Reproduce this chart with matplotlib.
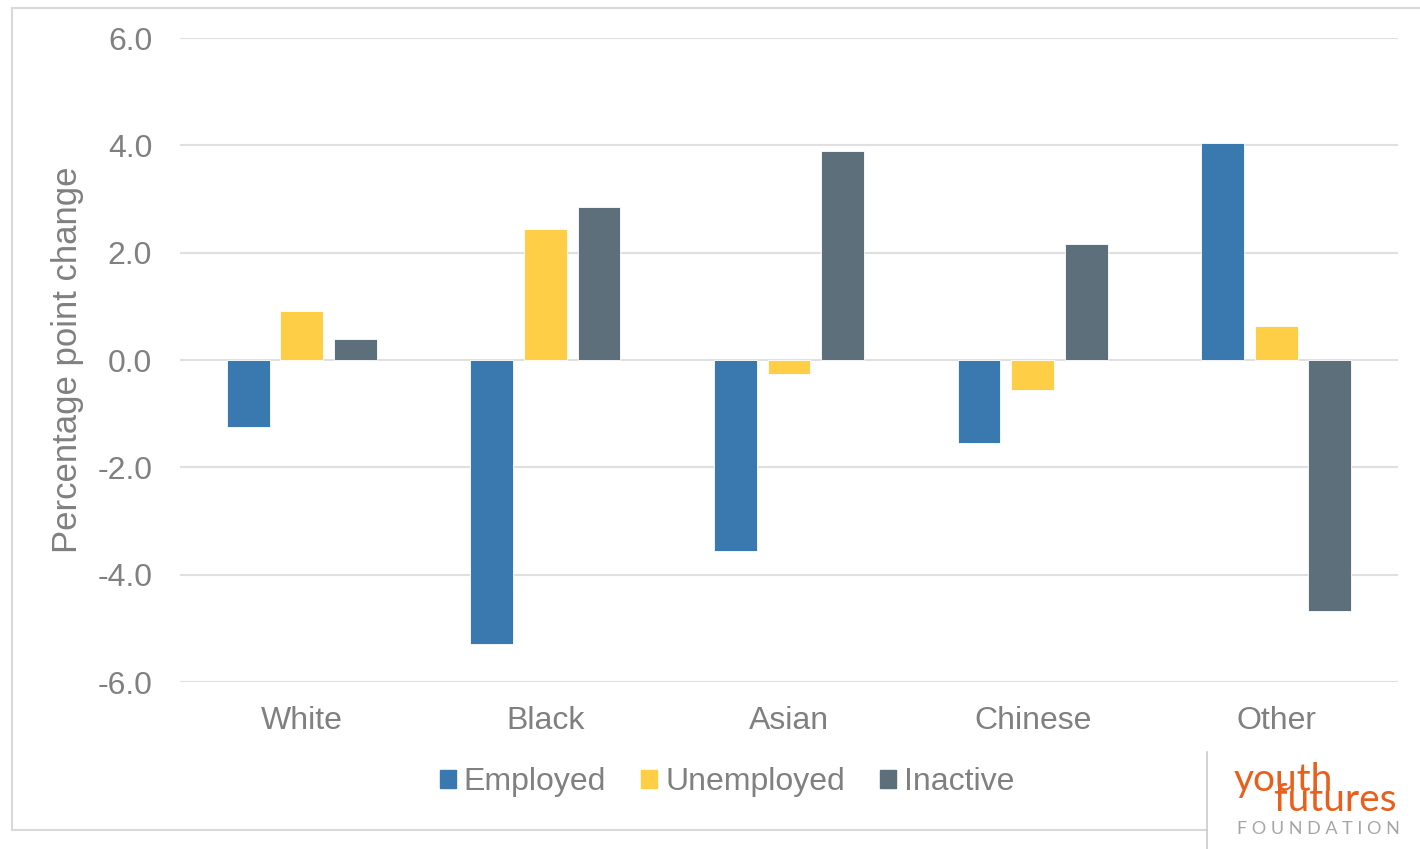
import matplotlib
matplotlib.use('Agg')
import numpy as np
import matplotlib.pyplot as plt
from matplotlib.patches import Patch
from matplotlib.lines import Line2D

groups = ["White", "Black", "Asian", "Chinese", "Other"]
series = ["Employed", "Unemployed", "Inactive"]
employed = [-1.25, -5.29, -3.56, -1.55, 4.04]
unemployed = [0.91, 2.44, -0.26, -0.56, 0.63]
inactive = [0.39, 2.85, 3.89, 2.16, -4.67]
yticks = [-6.0, -4.0, -2.0, 0.0, 2.0, 4.0, 6.0]

colors = ['#3A78B0', '#FFCE47', '#5D6F7A']
grey = '#808080'

plt.rcParams['font.family'] = ['Liberation Sans', 'DejaVu Sans']

fig = plt.figure(figsize=(14.2, 8.49), dpi=100)
ax = fig.add_axes([180/1420, 1-682/849, (1398-180)/1420, (682-38)/849])

x = np.arange(len(groups))
w = 0.175
step = 0.22
for i, (vals, c) in enumerate(zip([employed, unemployed, inactive], colors)):
    ax.bar(x + (i-1)*step, vals, w, color=c, edgecolor='white', linewidth=0.6, zorder=3)

ax.set_xlim(-0.5, len(groups)-0.5)
ax.set_ylim(-6, 6)
ax.set_yticks(yticks)
ax.set_yticklabels(["%.1f" % t for t in yticks])
ax.set_xticks(x)
ax.set_xticklabels(groups)
ax.grid(axis='y', color='#E0E0E0', linewidth=1.5, zorder=0)
ax.tick_params(length=0, labelsize=23, labelcolor=grey)
ax.tick_params(axis='y', pad=20)
ax.tick_params(axis='x', pad=17)
for s in ax.spines.values():
    s.set_visible(False)

# y axis title
fig.text(68/1420, 1-360/849, "Percentage point change", rotation=90, fontsize=25,
         color=grey, ha='center', va='center')

handles = [Patch(color=c, label=l) for c, l in zip(colors, series)]
fig.legend(handles=handles, loc='center', bbox_to_anchor=(727/1420, 1-782/849), ncol=3,
           frameon=False, fontsize=23, labelcolor=grey, handlelength=0.5, handleheight=0.5,
           handletextpad=0.25, columnspacing=1.1)

# outer frame
fc = '#D9D9D9'
fig.add_artist(Line2D([12/1420, 1420/1420], [1-8/849, 1-8/849], color=fc, lw=1.5))
fig.add_artist(Line2D([12/1420, 12/1420], [1-8/849, 1-830/849], color=fc, lw=1.5))
fig.add_artist(Line2D([12/1420, 1207/1420], [1-830/849, 1-830/849], color=fc, lw=1.5))
fig.add_artist(Line2D([1207/1420, 1207/1420], [1-752/849, 0], color='#CCCCCC', lw=1.2))

# logo
orange = '#E8601C'
fig.text(1234/1420, 1-811/849, "youth\n    futures", color=orange, fontsize=28, family='Lato',
         va='baseline', ha='left', multialignment='left', linespacing=0.44)
fig.text(1318/1420, 1-821/849, "F O U N D A T I O N", color='#A6A6A6', fontsize=13,
         family='Lato', va='top', ha='center')

fig.savefig('out.png', dpi=100, facecolor='white')
